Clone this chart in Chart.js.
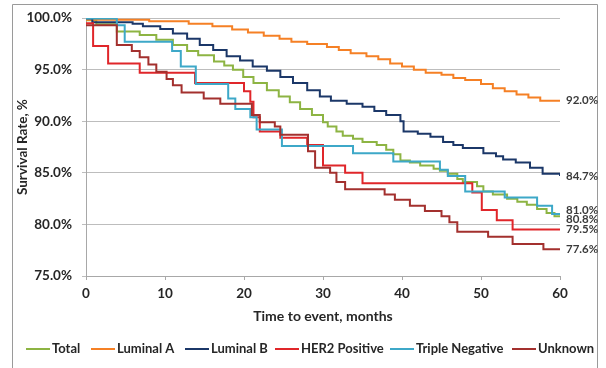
<!DOCTYPE html>
<html><head><meta charset="utf-8">
<script src="https://cdn.jsdelivr.net/npm/chart.js@4/dist/chart.umd.min.js"></script>
<style>html,body{margin:0;padding:0;background:#fff;}#wrap{position:relative;width:606px;height:368px;}canvas{display:block;}</style>
</head><body><div id="wrap"><canvas id="c" width="606" height="368"></canvas></div>
<script>
// ---- data (months, survival %) ----
const seriesNames = ["Total", "Luminal A", "Luminal B", "HER2 Positive", "Triple Negative", "Unknown"];
const seriesColors = ["#8DB443", "#F58025", "#1B3768", "#E0262A", "#3DA8C8", "#A3302E"];

const totalMonths   = [0, 1.3, 3.9, 6.8, 8.9, 11, 12.8, 14.2, 16.2, 17.5, 18.6, 19.9, 21.2, 22.9, 24.4, 25.8, 27.1, 28.6, 30.0, 30.6, 31.7, 32.5, 33.8, 35.0, 36.8, 38.0, 38.9, 39.8, 41.0, 42.3, 44.0, 44.8, 45.8, 47.0, 47.7, 49.5, 50.3, 51.5, 53.3, 54.6, 55.8, 57.1, 58.3, 59.3, 60];
const totalSurvival = [99.8, 99.4, 98.7, 98.35, 97.9, 97.4, 96.8, 96.4, 95.8, 95.4, 95.0, 94.3, 93.7, 93.0, 92.4, 91.85, 91.2, 90.6, 89.9, 89.5, 89.0, 88.6, 88.3, 88.0, 87.7, 87.25, 86.8, 86.2, 86.0, 85.7, 85.4, 85.2, 84.9, 84.4, 84.1, 83.7, 83.2, 82.9, 82.5, 82.2, 81.9, 81.5, 81.1, 80.8, 80.8];

const lumAMonths   = [0, 8, 13, 16, 18.5, 20.5, 22.5, 24.5, 26, 28, 30.5, 32, 33.5, 35.5, 37, 38.5, 40, 41.5, 43, 45, 46.5, 48, 50, 51.5, 53, 54.5, 56, 57.5, 60];
const lumASurvival = [99.85, 99.7, 99.45, 99.2, 98.9, 98.6, 98.3, 98.0, 97.7, 97.5, 97.2, 96.9, 96.6, 96.3, 96.0, 95.6, 95.3, 95.0, 94.7, 94.5, 94.2, 94.0, 93.6, 93.2, 92.9, 92.6, 92.3, 92.0, 92.0];

const lumBMonths   = [0, 0.8, 5.9, 7.2, 9.4, 11, 12.8, 14.4, 16.1, 17.8, 19.5, 21.1, 22.9, 24.6, 26.2, 28, 29.6, 31, 33, 35, 36.5, 38, 39.8, 40.2, 42, 43.6, 45.2, 46.5, 47.7, 50.3, 51.9, 52.8, 54.4, 56.2, 57.8, 60];
const lumBSurvival = [99.95, 99.6, 99.45, 99.2, 98.95, 98.5, 98.0, 97.4, 96.9, 96.3, 95.9, 95.3, 94.9, 94.3, 93.7, 93.0, 92.4, 92.0, 91.7, 91.4, 91.0, 90.6, 90.0, 89.0, 88.8, 88.5, 88.0, 87.7, 87.4, 86.9, 86.6, 86.3, 86.0, 85.5, 84.9, 84.7];

const her2Months   = [0, 0.9, 2.8, 6.8, 13.8, 20.0, 20.8, 21.2, 22.0, 24.6, 28.0, 30.0, 32.8, 35.0, 48.9, 50.1, 52.0, 54.0, 60];
const her2Survival = [99.5, 97.3, 95.6, 94.7, 93.7, 92.9, 91.9, 90.4, 89.0, 88.4, 87.7, 85.7, 85.0, 84.0, 83.1, 81.4, 80.4, 79.5, 79.5];

const tnMonths   = [0, 3.9, 4.9, 10.9, 12.0, 13.9, 18.0, 18.9, 20.8, 21.6, 24.8, 33.8, 38.9, 44.8, 45.8, 48.0, 53.0, 57.1, 59.0, 60];
const tnSurvival = [99.95, 99.3, 97.7, 96.8, 95.3, 93.6, 92.2, 91.2, 90.4, 89.2, 87.6, 86.9, 86.1, 85.3, 84.7, 83.2, 82.6, 81.8, 81.0, 81.0];

const unkMonths   = [0, 3.9, 5.8, 6.8, 7.9, 8.9, 10.2, 11.0, 12.1, 14.9, 17.0, 21.0, 22.0, 23.9, 24.6, 28.1, 29.0, 30.9, 31.7, 32.8, 37.8, 39.1, 41.0, 42.9, 45.0, 46.0, 47.0, 50.9, 54.0, 57.9, 60];
const unkSurvival = [99.3, 97.4, 96.8, 96.2, 95.5, 94.8, 94.1, 93.5, 92.8, 92.2, 91.7, 90.6, 89.9, 89.5, 88.7, 87.1, 85.5, 85.0, 84.1, 83.4, 82.9, 82.4, 81.8, 81.3, 80.8, 80.2, 79.3, 78.8, 78.1, 77.6, 77.6];

const xTicks = [0, 10, 20, 30, 40, 50, 60];
const yTicks = [75, 80, 85, 90, 95, 100];
const xTitle = "Time to event, months";
const yTitle = "Survival Rate, %";

// ---- build ----
const monthsList = [totalMonths, lumAMonths, lumBMonths, her2Months, tnMonths, unkMonths];
const survList = [totalSurvival, lumASurvival, lumBSurvival, her2Survival, tnSurvival, unkSurvival];

const datasets = seriesNames.map((name, i) => ({
  label: name,
  data: monthsList[i].map((m, j) => ({ x: m, y: survList[i][j] })),
  borderColor: seriesColors[i],
  backgroundColor: seriesColors[i],
  borderWidth: 2,
  pointRadius: 0,
  stepped: 'before',
  fill: false,
  order: seriesNames.length - i
}));

const TXT = '#262626';
const FONT = 'Lato, "Open Sans", sans-serif';

const decor = {
  id: 'decor',
  afterDraw(chart) {
    const ctx = chart.ctx;
    const area = chart.chartArea;
    const ys = chart.scales.y;
    ctx.save();
    // outer frame (cropped)
    ctx.strokeStyle = '#9A9A9A';
    ctx.lineWidth = 1;
    ctx.beginPath();
    ctx.moveTo(12.5, 368); ctx.lineTo(12.5, 4.5); ctx.lineTo(597.5, 4.5); ctx.lineTo(597.5, 368);
    ctx.stroke();

    // axis titles
    ctx.fillStyle = TXT;
    ctx.font = 'bold 14px ' + FONT;
    ctx.textAlign = 'center';
    ctx.textBaseline = 'middle';
    ctx.fillText(xTitle, (area.left + area.right) / 2, 316);
    ctx.save();
    ctx.translate(23, (area.top + area.bottom) / 2);
    ctx.rotate(-Math.PI / 2);
    ctx.font = 'bold 13.5px ' + FONT;
    ctx.fillText(yTitle, 0, 0);
    ctx.restore();

    // end labels with simple overlap avoidance
    const labels = survList.map(s => {
      const v = s[s.length - 1];
      return { text: v.toFixed(1) + '%', y: ys.getPixelForValue(v) };
    }).sort((a, b) => a.y - b.y);
    const gap = 9;
    for (let k = 0; k < 4; k++) {
      for (let i = 1; i < labels.length; i++) {
        const d = labels[i].y - labels[i - 1].y;
        if (d < gap) {
          const push = (gap - d) / 2;
          labels[i].y += push; labels[i - 1].y -= push;
        }
      }
    }
    ctx.font = 'bold 11.5px ' + FONT;
    ctx.textAlign = 'left';
    ctx.fillStyle = '#3A3A3A';
    labels.forEach(l => ctx.fillText(l.text, area.right + 6, l.y));

    // legend
    const legendX = [26, 91, 185, 275, 390, 512];
    const ly = 349;
    ctx.font = 'bold 13px ' + FONT;
    ctx.fillStyle = TXT;
    seriesNames.forEach((n, i) => {
      ctx.strokeStyle = seriesColors[i];
      ctx.lineWidth = 2;
      ctx.beginPath();
      ctx.moveTo(legendX[i], ly); ctx.lineTo(legendX[i] + 24, ly);
      ctx.stroke();
      ctx.fillText(n, legendX[i] + 26, ly);
    });
    ctx.restore();
  }
};

new Chart(document.getElementById('c'), {
  type: 'line',
  data: { datasets },
  options: {
    responsive: false,
    animation: false,
    devicePixelRatio: 1,
    layout: { padding: { left: 0, right: 46, top: 15, bottom: 0 } },
    plugins: { legend: { display: false }, tooltip: { enabled: false }, title: { display: false } },
    scales: {
      x: {
        type: 'linear', min: 0, max: 60,
        afterBuildTicks: s => { s.ticks = xTicks.map(v => ({ value: v })); },
        afterFit: s => { s.height = 92; },
        grid: { display: true, drawOnChartArea: false, drawTicks: true, tickLength: 4, color: '#A8A8A8' },
        border: { display: true, color: '#A8A8A8', width: 1 },
        ticks: { color: TXT, font: { family: FONT, weight: 'bold', size: 13.5 }, padding: 6, maxRotation: 0 }
      },
      y: {
        min: 75, max: 100,
        afterBuildTicks: s => { s.ticks = yTicks.map(v => ({ value: v })); },
        afterFit: s => { s.width = 86; },
        grid: { color: '#BDBDBD', tickLength: 4, drawTicks: true },
        border: { display: true, color: '#A8A8A8', width: 1 },
        ticks: { color: TXT, font: { family: FONT, weight: 'bold', size: 13.5 }, padding: 10, callback: v => v.toFixed(1) + '%' }
      }
    }
  },
  plugins: [decor]
});
</script>
</body></html>
